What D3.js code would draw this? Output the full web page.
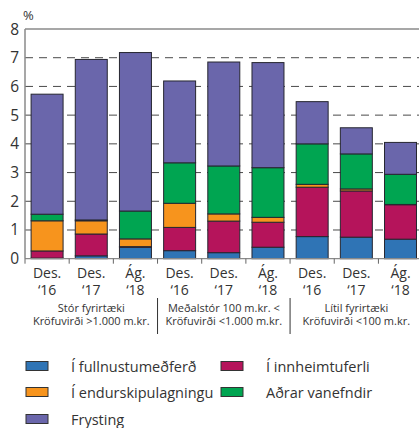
<!DOCTYPE html>
<html>
<head>
<meta charset="utf-8">
<script src="https://cdn.jsdelivr.net/npm/d3@7"></script>
<style>
  html, body { margin: 0; padding: 0; background: #fff; }
  svg { display: block; font-family: "Open Sans", "Noto Sans", sans-serif; }
</style>
</head>
<body>
<svg id="chart" width="419" height="428"></svg>
<script>
// Periods shown under each bar (two text lines each)
const periodTop = ["Des.", "Des.", "Ág.", "Des.", "Des.", "Ág.", "Des.", "Des.", "Ág."];
const periodBottom = ["‘16", "‘17", "‘18", "‘16", "‘17", "‘18", "‘16", "‘17", "‘18"];

// Company size groups (two lines each), three bars per group
const groupLine1 = ["Stór fyrirtæki", "Meðalstór 100 m.kr. <", "Lítil fyrirtæki"];
const groupLine2 = ["Kröfuvirði >1.000 m.kr.", "Kröfuvirði <1.000 m.kr.", "Kröfuvirði <100 m.kr."];

// Stacked components, % of loans (bottom to top)
const fullnusta   = [0.02, 0.10, 0.40, 0.28, 0.21, 0.40, 0.77, 0.75, 0.68];
const innheimta   = [0.25, 0.76, 0.02, 0.81, 1.10, 0.87, 1.72, 1.61, 1.20];
const endurskipul = [1.05, 0.46, 0.27, 0.84, 0.25, 0.17, 0.10, 0.07, 0.01];
const adrarVanefn = [0.23, 0.03, 0.97, 1.41, 1.67, 1.73, 1.41, 1.22, 1.05];
const frysting    = [4.18, 5.59, 5.52, 2.85, 3.62, 3.66, 1.47, 0.91, 1.11];

const seriesNames = ["Í fullnustumeðferð", "Í innheimtuferli", "Í endurskipulagningu", "Aðrar vanefndir", "Frysting"];
const seriesColors = ["#2f74b5", "#b5145b", "#f7941d", "#00a551", "#6a66ab"];
const seriesValues = [fullnusta, innheimta, endurskipul, adrarVanefn, frysting];

const yTicks = [0, 1, 2, 3, 4, 5, 6, 7, 8];

const svg = d3.select("#chart");
const plotLeft = 25, plotRight = 422.6, plotTop = 29, plotBottom = 258.7;

const x = d3.scaleBand()
  .domain(d3.range(periodTop.length))
  .range([plotLeft, plotRight])
  .paddingInner(0.276)
  .paddingOuter(0.138);
const step = x.step();
const gap = (step - x.bandwidth()) / 2;
const y = d3.scaleLinear().domain([0, 8]).range([plotBottom, plotTop]);

// Dashed gridlines for the inner ticks
svg.append("g")
  .selectAll("line")
  .data(yTicks.filter(t => t > 0 && t < 8))
  .join("line")
  .attr("x1", plotLeft).attr("x2", 419)
  .attr("y1", d => y(d)).attr("y2", d => y(d))
  .attr("stroke", "#4a4a4a")
  .attr("stroke-width", 1)
  .attr("stroke-dasharray", "8,6");

// Stacked bars
const table = d3.range(periodTop.length).map(i => {
  const row = { i };
  seriesNames.forEach((n, k) => { row[n] = seriesValues[k][i]; });
  return row;
});
const stacked = d3.stack().keys(seriesNames)(table);

svg.append("g")
  .selectAll("g")
  .data(stacked)
  .join("g")
  .attr("fill", (d, k) => seriesColors[k])
  .selectAll("rect")
  .data(d => d)
  .join("rect")
  .attr("x", d => x(d.data.i))
  .attr("width", x.bandwidth())
  .attr("y", d => y(d[1]))
  .attr("height", d => y(d[0]) - y(d[1]))
  .attr("stroke", "#262630")
  .attr("stroke-width", 1);

// Frame: left axis, top border, baseline
const frame = svg.append("g").attr("stroke", "#8a8a8a").attr("fill", "none");
frame.append("line").attr("x1", plotLeft).attr("x2", 419).attr("y1", y(8)).attr("y2", y(8)).attr("stroke-width", 1.5);
frame.append("line").attr("x1", plotLeft).attr("x2", plotLeft).attr("y1", y(8)).attr("y2", plotBottom).attr("stroke-width", 1.5);
frame.append("line").attr("x1", plotLeft).attr("x2", 419).attr("y1", plotBottom).attr("y2", plotBottom).attr("stroke-width", 1.2);

// Category separators on the baseline
svg.append("g")
  .selectAll("line")
  .data(d3.range(periodTop.length))
  .join("line")
  .attr("x1", i => x(i) - gap)
  .attr("x2", i => x(i) - gap)
  .attr("y1", plotBottom).attr("y2", plotBottom + 5)
  .attr("stroke", "#666").attr("stroke-width", 1);

// Y tick labels
svg.append("g")
  .selectAll("text")
  .data(yTicks)
  .join("text")
  .attr("x", 19)
  .attr("y", d => y(d) + 5.5)
  .attr("text-anchor", "end")
  .attr("font-size", 15.5)
  .attr("fill", "#333")
  .text(d => d);

svg.append("text")
  .attr("x", 23).attr("y", 20)
  .attr("font-size", 13)
  .attr("fill", "#333")
  .text("%");

// Period labels
const cat = svg.append("g").attr("text-anchor", "middle").attr("font-size", 14).attr("fill", "#333");
cat.selectAll("text.top")
  .data(periodTop)
  .join("text")
  .attr("class", "top")
  .attr("x", (d, i) => x(i) + x.bandwidth() / 2)
  .attr("y", 278)
  .text(d => d);
cat.selectAll("text.bot")
  .data(periodBottom)
  .join("text")
  .attr("class", "bot")
  .attr("x", (d, i) => x(i) + x.bandwidth() / 2)
  .attr("y", 294.5)
  .text(d => d);

// Group labels and separators
const groupCenter = g => (x(g * 3) + x(g * 3 + 2) + x.bandwidth()) / 2;
const grp = svg.append("g").attr("text-anchor", "middle").attr("font-size", 11).attr("fill", "#333");
grp.selectAll("text.l1")
  .data(groupLine1)
  .join("text")
  .attr("class", "l1")
  .attr("x", (d, g) => groupCenter(g))
  .attr("y", 311.5)
  .text(d => d);
grp.selectAll("text.l2")
  .data(groupLine2)
  .join("text")
  .attr("class", "l2")
  .attr("x", (d, g) => groupCenter(g))
  .attr("y", 325)
  .text(d => d);

svg.append("g")
  .selectAll("line")
  .data([1, 2])
  .join("line")
  .attr("x1", g => x(g * 3) - gap)
  .attr("x2", g => x(g * 3) - gap)
  .attr("y1", 298).attr("y2", 334)
  .attr("stroke", "#333").attr("stroke-width", 1);

// Legend
const legendOrder = [0, 1, 2, 3, 4];
const legendPos = [[26, 366], [221, 366], [26, 392], [221, 392], [26, 419]];
const lg = svg.append("g")
  .selectAll("g")
  .data(legendOrder)
  .join("g")
  .attr("transform", (k, j) => `translate(${legendPos[j][0]},${legendPos[j][1]})`);
lg.append("rect")
  .attr("x", 0).attr("y", -4.5)
  .attr("width", 22).attr("height", 9)
  .attr("fill", k => seriesColors[k])
  .attr("stroke", "#333").attr("stroke-width", 1);
lg.append("text")
  .attr("x", 45).attr("y", 5.5)
  .attr("font-size", 14.5)
  .attr("fill", "#333")
  .text(k => seriesNames[k]);
</script>
</body>
</html>
